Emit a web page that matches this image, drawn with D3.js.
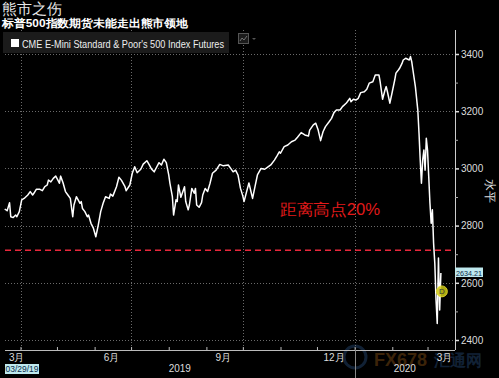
<!DOCTYPE html>
<html><head><meta charset="utf-8">
<script src="https://cdn.jsdelivr.net/npm/d3@7"></script>
<style>
html,body{margin:0;padding:0;background:#000;}
svg{display:block;}
text{font-family:"Liberation Sans","DejaVu Sans",sans-serif;}
</style></head>
<body>
<svg id="c" width="499" height="378"></svg>
<script>
// ---------- data ----------
const dates = [
"2019-03-19","2019-03-21","2019-03-23","2019-03-24","2019-03-26","2019-03-28","2019-03-29","2019-03-31",
"2019-04-02","2019-04-04","2019-04-07","2019-04-09","2019-04-11","2019-04-12","2019-04-14","2019-04-17",
"2019-04-19","2019-04-21","2019-04-23","2019-04-24","2019-04-26","2019-04-28","2019-04-30",
"2019-05-02","2019-05-03","2019-05-04","2019-05-06","2019-05-08","2019-05-10","2019-05-12","2019-05-14",
"2019-05-15","2019-05-17","2019-05-20","2019-05-21","2019-05-22","2019-05-24","2019-05-26","2019-05-27",
"2019-05-29","2019-05-31","2019-06-02","2019-06-04","2019-06-06","2019-06-08","2019-06-10","2019-06-13",
"2019-06-14","2019-06-16","2019-06-19","2019-06-21","2019-06-23","2019-06-26","2019-06-27","2019-06-30",
"2019-07-02","2019-07-04","2019-07-06","2019-07-09","2019-07-11","2019-07-14","2019-07-16","2019-07-18",
"2019-07-20","2019-07-22","2019-07-24","2019-07-26","2019-07-28","2019-07-30",
"2019-08-01","2019-08-02","2019-08-04","2019-08-05","2019-08-07","2019-08-08","2019-08-09","2019-08-11",
"2019-08-13","2019-08-14","2019-08-15","2019-08-17","2019-08-18","2019-08-20","2019-08-22","2019-08-23",
"2019-08-24","2019-08-26","2019-08-28","2019-08-29","2019-08-31",
"2019-09-02","2019-09-04","2019-09-06","2019-09-09","2019-09-12","2019-09-15","2019-09-19","2019-09-21",
"2019-09-23","2019-09-25","2019-09-27","2019-09-29",
"2019-10-01","2019-10-02","2019-10-04","2019-10-06","2019-10-09","2019-10-11","2019-10-13","2019-10-16",
"2019-10-19","2019-10-22","2019-10-24","2019-10-27","2019-10-29","2019-10-31",
"2019-11-01","2019-11-04","2019-11-07","2019-11-10","2019-11-13","2019-11-15","2019-11-18","2019-11-21",
"2019-11-24","2019-11-25","2019-11-28","2019-11-30",
"2019-12-02","2019-12-04","2019-12-06","2019-12-08","2019-12-11","2019-12-13","2019-12-15","2019-12-17",
"2019-12-20","2019-12-22","2019-12-25","2019-12-26","2019-12-28","2019-12-29","2019-12-31",
"2020-01-02","2020-01-04","2020-01-06","2020-01-09","2020-01-11","2020-01-13","2020-01-16","2020-01-18",
"2020-01-21","2020-01-22","2020-01-24","2020-01-26","2020-01-27","2020-01-28","2020-01-30",
"2020-02-01","2020-02-03","2020-02-04","2020-02-06","2020-02-07","2020-02-09","2020-02-10","2020-02-12",
"2020-02-15","2020-02-16","2020-02-17","2020-02-18","2020-02-20","2020-02-22","2020-02-23","2020-02-24",
"2020-02-25","2020-02-26","2020-02-27","2020-02-28","2020-02-29",
"2020-03-01","2020-03-02","2020-03-03","2020-03-04","2020-03-05","2020-03-06","2020-03-07","2020-03-08",
"2020-03-09","2020-03-10","2020-03-11","2020-03-12"
];
const values = [
2858,2852,2880,2831,2828,2837,2831,2849,
2890,2895,2907,2919,2907,2913,2927,2927,
2922,2936,2942,2959,2953,2965,2973,
2957,2948,2973,2950,2919,2907,2895,2831,
2872,2901,2878,2884,2860,2849,2831,2837,
2808,2791,2761,2802,2849,2878,2901,2895,
2910,2903,2936,2969,2959,2936,2922,2942,
2983,3006,2985,2997,3015,3027,3012,2997,
2988,3004,3020,3012,3032,3020,
2977,2948,2901,2837,2890,2884,2942,2899,
2924,2936,2884,2855,2872,2930,2913,2930,
2872,2864,2880,2907,2930,
2919,2948,2983,2994,3014,3009,3012,3000,
2988,2994,2977,2931,
2903,2884,2917,2949,2895,2936,2977,3000,
2997,3006,3012,3029,3043,3058,
3053,3076,3082,3093,3099,3109,3125,3117,
3113,3134,3152,3158,
3134,3097,3128,3146,3163,3175,3195,3204,
3204,3216,3228,3233,3245,3233,3242,
3239,3245,3265,3268,3277,3298,3303,3327,
3327,3303,3242,3274,3286,3268,3228,
3268,3309,3333,3344,3350,3367,3379,3385,
3379,3391,3373,3344,3286,3204,3123,3029,
2948,3029,3064,2994,3105,
3064,2971,2878,2808,2855,2738,2668,2540,
2458,2687,2505,2634
];
const lastValue = 2634.21;
const thresholdValue = 2714;          // 20% below the high
const thresholdLabel = "距离高点20%";
const eventDate = "2020-03-12";
const eventValue = 2570;
const eventLabel = "D";

const yMajorTicks = [2400, 2600, 2800, 3000, 3200, 3400];
const yMinorTicks = [2500, 2700, 2900, 3100, 3300];
const quarterLabelMonths = ["2019-03-15","2019-06-15","2019-09-15","2019-12-15","2020-03-15"];
const quarterLabels = ["3月","6月","9月","12月","3月"];
const years = ["2019","2020"];
const startDateLabel = "03/29/19";

const title = "熊市之伤";
const subtitle = "标普500指数期货未能走出熊市领地";
const legendLabel = "CME E-Mini Standard & Poor's 500 Index Futures";
const yAxisTitle = "水平";

// ---------- layout ----------
const W = 499, H = 378;
const plotL = 5, plotR = 455, plotT = 30, axisY = 350;
const parse = d3.utcParse("%Y-%m-%d");
const data = dates.map((d,i)=>({date:parse(d), value:values[i]}));

const pxPerDay = 1.215;
const d0 = parse("2019-04-01"), d1 = parse("2020-03-01");
const nDays = (d1 - d0)/864e5;
const x = d3.scaleUtc().domain([d0, d1]).range([20.5, 20.5 + nDays*pxPerDay]);
const y = d3.scaleLinear().domain([2400, 3400]).range([340, 54]);

const svg = d3.select("#c");
svg.append("rect").attr("width",W).attr("height",H).attr("fill","#000");

// watermark (behind everything)
const wm = svg.append("g").attr("opacity",0.3);
wm.append("circle").attr("cx",355).attr("cy",357).attr("r",11).attr("fill","none").attr("stroke","#3a6fb0").attr("stroke-width",3);
wm.append("text").attr("x",374).attr("y",366).attr("font-size","18px").attr("font-weight","bold")
  .attr("fill","#c8781e").text("FX678");
wm.append("text").attr("x",434).attr("y",366).attr("font-size","16px").attr("font-weight","bold")
  .attr("font-family","Noto Sans CJK SC, sans-serif").attr("fill","#3a6fb0").text("汇通网");

// grid
const grid = svg.append("g").attr("stroke","#6a6a6a").attr("stroke-dasharray","1,2").attr("stroke-width",1);
grid.selectAll("line.h").data(yMajorTicks).join("line")
  .attr("x1",plotL).attr("x2",plotR)
  .attr("y1",d=>Math.round(y(d))+0.5).attr("y2",d=>Math.round(y(d))+0.5);
const qTicks = ["2019-04-01","2019-07-01","2019-10-01","2020-01-01"].map(parse);
grid.selectAll("line.v").data(qTicks).join("line")
  .attr("y1",plotT).attr("y2",axisY)
  .attr("x1",d=>Math.round(x(d))+0.5).attr("x2",d=>Math.round(x(d))+0.5);

// x axis
const monthTicks = d3.utcMonth.range(parse("2019-04-01"), parse("2020-03-02"));
const xAxis = d3.axisTop(x).tickValues(monthTicks).tickSize(3).tickFormat("").tickSizeOuter(0);
const gx = svg.append("g").attr("transform",`translate(0,${axisY})`).call(xAxis);
gx.select(".domain").remove();
gx.selectAll(".tick line").attr("stroke","#bbb");
svg.append("line").attr("x1",plotL).attr("x2",plotR).attr("y1",axisY+0.5).attr("y2",axisY+0.5)
  .attr("stroke","#bbb").attr("stroke-width",1);
// year separator
svg.append("line").attr("x1",Math.round(x(parse("2020-01-01")))+0.5).attr("x2",Math.round(x(parse("2020-01-01")))+0.5)
  .attr("y1",axisY).attr("y2",H).attr("stroke","#888");

const firstX = x(data[0].date);
svg.append("g").selectAll("text").data(quarterLabelMonths).join("text")
  .attr("x",(d)=>Math.max(x(parse(d)), firstX+12))
  .attr("y",361).attr("text-anchor","middle")
  .attr("fill","#ddd").attr("font-size","10px")
  .text((d,i)=>quarterLabels[i]);

const yearSpans = years.map(yr=>{
  const a = Math.max(plotL, x(parse(yr+"-01-01")));
  const b = Math.min(plotR, x(parse((+yr+1)+"-01-01")));
  return (a+b)/2;
});
svg.append("g").selectAll("text").data(years).join("text")
  .attr("x",(d,i)=>yearSpans[i]).attr("y",372).attr("text-anchor","middle")
  .attr("fill","#ddd").attr("font-size","10px").text(d=>d);

// start date box
svg.append("rect").attr("x",5).attr("y",364).attr("width",34).attr("height",10).attr("fill","#bfe9ee");
svg.append("text").attr("x",22).attr("y",372).attr("text-anchor","middle").attr("font-size","8.5px")
  .attr("fill","#0a2a4a").text(startDateLabel);

// y axis
svg.append("line").attr("x1",plotR+0.5).attr("x2",plotR+0.5).attr("y1",plotT).attr("y2",axisY)
  .attr("stroke","#ccc");
const yAxis = d3.axisRight(y).tickValues(yMajorTicks).tickSize(4).tickPadding(2).tickFormat(d3.format("d"));
const gy = svg.append("g").attr("transform",`translate(${plotR},0)`).call(yAxis);
gy.select(".domain").remove();
gy.selectAll(".tick line").attr("stroke","#ddd").attr("stroke-width",1.5);
gy.selectAll(".tick text").attr("fill","#ddd").attr("font-size","10px")
  .attr("font-family","Liberation Sans, sans-serif");
const gyMinor = svg.append("g").attr("transform",`translate(${plotR},0)`)
  .call(d3.axisRight(y).tickValues(yMinorTicks).tickSize(3).tickFormat(""));
gyMinor.select(".domain").remove();
gyMinor.selectAll(".tick line").attr("stroke","#aaa");

svg.append("text").attr("transform","translate(486,191) rotate(90)")
  .attr("text-anchor","middle").attr("fill","#ddd").attr("font-size","12px").text(yAxisTitle);

// threshold line
svg.append("line").attr("x1",plotL).attr("x2",plotR)
  .attr("y1",y(thresholdValue)).attr("y2",y(thresholdValue))
  .attr("stroke","#e8283c").attr("stroke-width",1.5).attr("stroke-dasharray","6,4");
svg.append("text").attr("x",280).attr("y",215).attr("fill","#e01a1a").attr("font-size","16px")
  .attr("font-family","Noto Sans CJK SC, sans-serif")
  .attr("textLength",100).attr("lengthAdjust","spacingAndGlyphs").text(thresholdLabel);

// line
const line = d3.line().x(d=>x(d.date)).y(d=>y(d.value));
svg.append("path").datum(data).attr("d",line).attr("fill","none")
  .attr("stroke","#fff").attr("stroke-width",1.5).attr("stroke-linejoin","round");

// event marker
const ex = x(parse(eventDate)), ey = y(eventValue);
svg.append("circle").attr("cx",ex+1).attr("cy",ey).attr("r",5.5)
  .attr("fill","rgba(205,200,20,0.85)").attr("stroke","#e8e030").attr("stroke-width",0.8);
svg.append("text").attr("x",ex+1).attr("y",ey+3).attr("text-anchor","middle")
  .attr("font-size","8px").attr("fill","#333").text(eventLabel);

// last value box
const ly = y(lastValue);
svg.append("rect").attr("x",plotR).attr("y",ly-5.5).attr("width",28).attr("height",9.5).attr("fill","#bfe9ee");
svg.append("text").attr("x",plotR+14).attr("y",ly+2.5).attr("text-anchor","middle")
  .attr("font-size","8px").attr("fill","#0a2a4a")
  .attr("textLength",26).attr("lengthAdjust","spacingAndGlyphs").text(lastValue.toFixed(2));

// legend
svg.append("rect").attr("x",3).attr("y",32).attr("width",226).attr("height",21).attr("fill","#1b1b1b");
svg.append("rect").attr("x",11).attr("y",39).attr("width",8).attr("height",8).attr("fill","#fff");
svg.append("text").attr("x",22).attr("y",47.5).attr("fill","#eee").attr("font-size","10.5px")
  .attr("textLength",202).attr("lengthAdjust","spacingAndGlyphs").text(legendLabel);
svg.append("rect").attr("x",238.5).attr("y",33.5).attr("width",10).attr("height",10)
  .attr("fill","#1b1b1b").attr("stroke","#555");
svg.append("path").attr("d","M240,41 L242,38 L244,40 L247,36").attr("fill","none").attr("stroke","#888").attr("stroke-width",0.8);
svg.append("path").attr("d","M252,38 L256,38 L254,40 Z").attr("fill","#555");

// titles
svg.append("text").attr("x",2).attr("y",14).attr("fill","#e6e6e6").attr("font-size","15px")
  .attr("font-family","Noto Sans CJK SC, sans-serif").text(title);
svg.append("text").attr("x",2).attr("y",27).attr("fill","#fff").attr("font-size","11px").attr("font-weight","bold")
  .attr("font-family","Noto Sans CJK SC, sans-serif")
  .attr("textLength",186).attr("lengthAdjust","spacingAndGlyphs").text(subtitle);
</script>
</body></html>
